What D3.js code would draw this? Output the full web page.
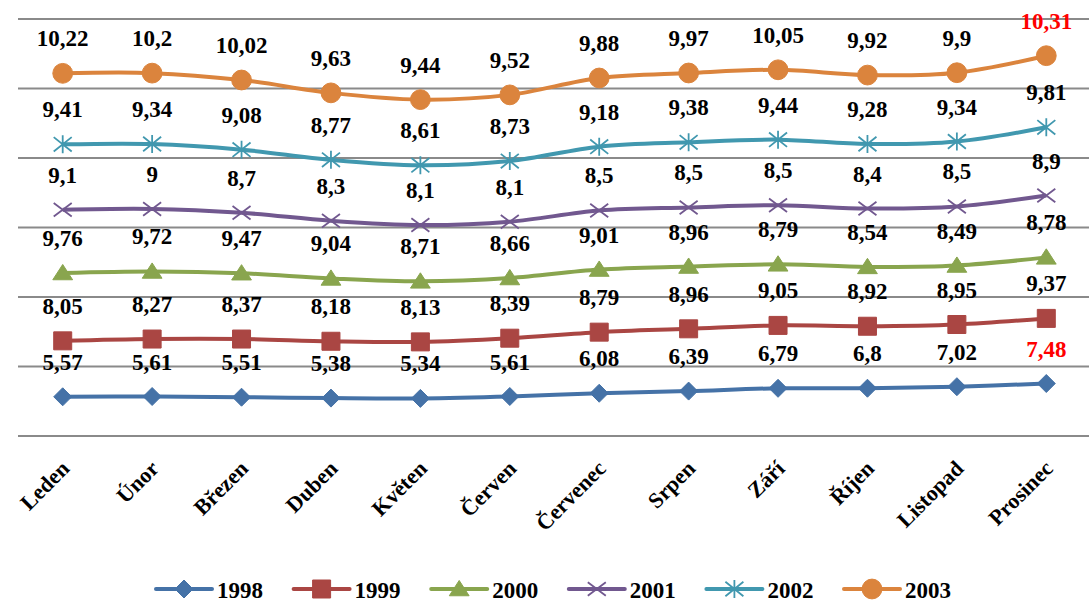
<!DOCTYPE html>
<html>
<head>
<meta charset="utf-8">
<script src="https://cdn.jsdelivr.net/npm/d3@7"></script>
<style>
  html, body { margin: 0; padding: 0; background: #ffffff; }
  svg { display: block; }
</style>
</head>
<body>
<svg id="chart" width="1089" height="603"></svg>
<script>
// ---- data ----
const months = ["Leden","Únor","Březen","Duben","Květen","Červen","Červenec","Srpen","Září","Říjen","Listopad","Prosinec"];
const years = ["1998","1999","2000","2001","2002","2003"];
const v1998 = [5.57,5.61,5.51,5.38,5.34,5.61,6.08,6.39,6.79,6.8,7.02,7.48];
const v1999 = [8.05,8.27,8.37,8.18,8.13,8.39,8.79,8.96,9.05,8.92,8.95,9.37];
const v2000 = [9.76,9.72,9.47,9.04,8.71,8.66,9.01,8.96,8.79,8.54,8.49,8.78];
const v2001 = [9.1,9,8.7,8.3,8.1,8.1,8.5,8.5,8.5,8.4,8.5,8.9];
const v2002 = [9.41,9.34,9.08,8.77,8.61,8.73,9.18,9.38,9.44,9.28,9.34,9.81];
const v2003 = [10.22,10.2,10.02,9.63,9.44,9.52,9.88,9.97,10.05,9.92,9.9,10.31];
const yTicks = [0,10,20,30,40,50,60];
const highlighted = [["1998","Prosinec"],["2003","Prosinec"]];

// ---- styles ----
const seriesValues = [v1998, v1999, v2000, v2001, v2002, v2003];
const colors = ["#4572A7","#AA4643","#89A54E","#71588F","#4198AF","#DB843D"];
const markers = ["diamond","square","triangle","x","star","circle"];
const FONT = "'Liberation Serif', 'Times New Roman', 'Liberation Sans', Arial, sans-serif";

const table = months.map((m, i) => {
  const row = { month: m };
  years.forEach((yr, j) => row[yr] = seriesValues[j][i]);
  return row;
});
const stacked = d3.stack().keys(years)(table);

const svg = d3.select("#chart");
const plotL = 18, plotR = 1089;
const x = d3.scalePoint().domain(months).range([18, 1091]).padding(0.5);
const y = d3.scaleLinear().domain([0, 60]).range([435.5, 18.5]);

// gridlines
const grid = svg.append("g").attr("transform", `translate(${plotL},0)`)
  .call(d3.axisRight(y).tickValues(yTicks).tickSize(plotR - plotL).tickFormat(""));
grid.select(".domain").remove();
grid.selectAll("line").attr("stroke", "#8a8a8a").attr("stroke-width", 2);

// x axis labels
const xa = svg.append("g").attr("transform", `translate(0,${y(0)})`)
  .call(d3.axisBottom(x).tickSize(0));
xa.attr("font-family", null).attr("font-size", null);
xa.select(".domain").remove();
xa.selectAll("text")
  .attr("x", 0).attr("y", 0).attr("dy", "0.35em")
  .attr("text-anchor", "end")
  .attr("transform", "translate(2,29) rotate(-45)")
  .attr("fill", "#000")
  .style("font-size", "22px")
  .style("font-family", FONT)
  .style("font-weight", "bold");

function markerPath(type, s) {
  const p = d3.path();
  if (type === "diamond") { p.moveTo(0,-s); p.lineTo(s,0); p.lineTo(0,s); p.lineTo(-s,0); p.closePath(); }
  else if (type === "square") { p.rect(-s, -s, 2*s, 2*s); }
  else if (type === "triangle") { p.moveTo(0,-s*0.95); p.lineTo(s*1.1, s*0.75); p.lineTo(-s*1.1, s*0.75); p.closePath(); }
  else if (type === "circle") { p.arc(0,0,s*1.1,0,Math.PI*2); }
  else if (type === "x") { p.moveTo(-s,-s*0.75); p.lineTo(s,s*0.75); p.moveTo(-s,s*0.75); p.lineTo(s,-s*0.75); }
  else if (type === "star") { p.moveTo(-s,-s*0.8); p.lineTo(s,s*0.8); p.moveTo(-s,s*0.8); p.lineTo(s,-s*0.8); p.moveTo(0,-s); p.lineTo(0,s); }
  return p.toString();
}
function drawMarker(g, type, color) {
  const open = (type === "x" || type === "star");
  g.append("path").attr("d", markerPath(type, 9))
    .attr("fill", open ? "none" : color)
    .attr("stroke", color)
    .attr("stroke-width", open ? 1.8 : 1);
}

const line = d3.line()
  .x(d => x(d.data.month))
  .y(d => y(d[1]))
  .curve(d3.curveCatmullRom.alpha(0.5));

stacked.forEach((layer, j) => {
  const g = svg.append("g");
  g.append("path").datum(layer).attr("d", line)
    .attr("fill", "none").attr("stroke", colors[j]).attr("stroke-width", 4)
    .attr("stroke-linejoin", "round");
  layer.forEach(d => {
    const mg = g.append("g").attr("transform", `translate(${x(d.data.month)},${y(d[1])})`);
    drawMarker(mg, markers[j], colors[j]);
  });
});

// data labels
const fmt = v => String(v).replace(".", ",");
stacked.forEach((layer, j) => {
  svg.append("g").selectAll("text").data(layer).join("text")
    .attr("x", d => x(d.data.month))
    .attr("y", d => y(d[1]) - 27)
    .attr("text-anchor", "middle")
    .attr("fill", d => highlighted.some(h => h[0] === layer.key && h[1] === d.data.month) ? "#FF0000" : "#000")
    .style("font-size", "23px")
    .style("font-weight", "bold")
    .style("font-family", FONT)
    .text(d => fmt(d.data[layer.key]));
});

// legend
const leg = svg.append("g").attr("transform", "translate(156,589)");
years.forEach((yr, j) => {
  const g = leg.append("g").attr("transform", `translate(${j * 137.6},0)`);
  g.append("line").attr("x1", 0).attr("x2", 56).attr("y1", 0).attr("y2", 0)
    .attr("stroke", colors[j]).attr("stroke-width", 4).attr("stroke-linecap", "round");
  const mg = g.append("g").attr("transform", "translate(28,0)");
  drawMarker(mg, markers[j], colors[j]);
  g.append("text").attr("x", 61).attr("y", 8.5).attr("fill", "#000")
    .style("font-size", "23px").style("font-weight", "bold").style("font-family", FONT).text(yr);
});
</script>
</body>
</html>
